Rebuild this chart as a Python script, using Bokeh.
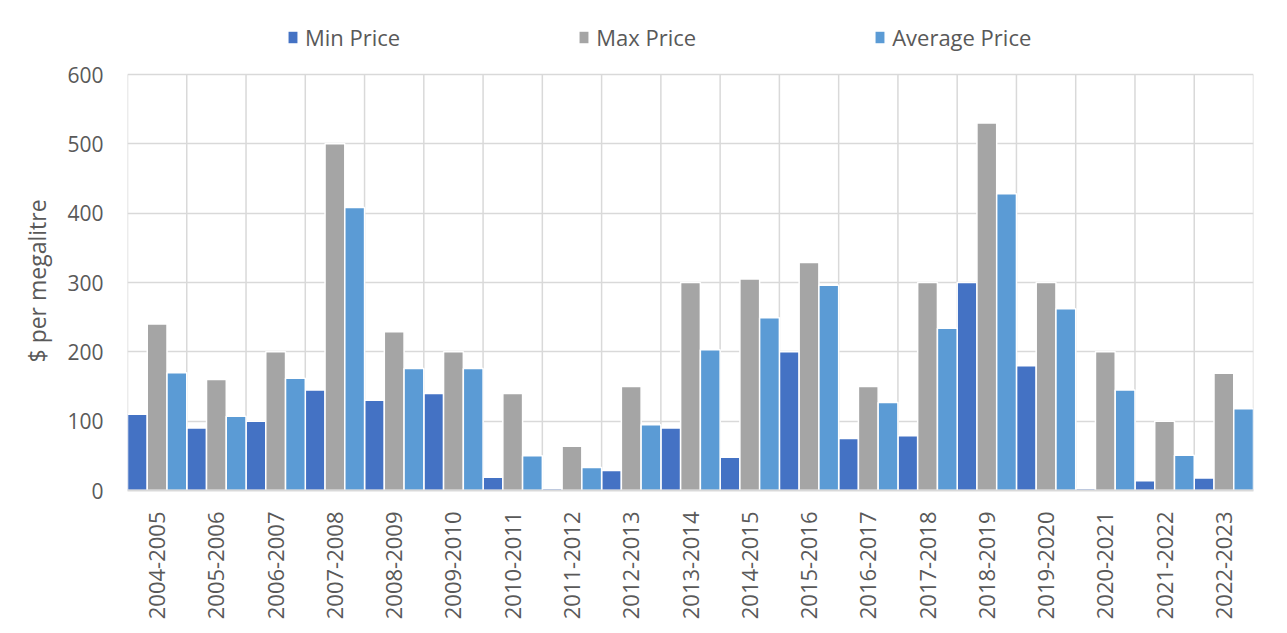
import math
from bokeh.plotting import figure
from bokeh.models import ColumnDataSource, FixedTicker, Legend, LegendItem, Range1d, Title
from bokeh.embed import file_html
from bokeh.resources import INLINE

categories = ["2004-2005", "2005-2006", "2006-2007", "2007-2008", "2008-2009",
              "2009-2010", "2010-2011", "2011-2012", "2012-2013", "2013-2014",
              "2014-2015", "2015-2016", "2016-2017", "2017-2018", "2018-2019",
              "2019-2020", "2020-2021", "2021-2022", "2022-2023"]
min_price = [110, 90, 100, 145, 130, 140, 19, 3, 29, 90, 48, 200, 75, 79, 300, 180, 3, 14, 18]
max_price = [240, 160, 200, 500, 229, 200, 140, 64, 150, 300, 305, 329, 150, 300, 530, 300, 200, 100, 169]
avg_price = [170, 107, 162, 408, 176, 176, 50, 33, 95, 203, 249, 296, 127, 234, 428, 262, 145, 51, 118]
y_ticks = [0, 100, 200, 300, 400, 500, 600]

series = [("Min Price", min_price, "#4472C4"),
          ("Max Price", max_price, "#A5A5A5"),
          ("Average Price", avg_price, "#5B9BD5")]

FONT = "Open Sans"
TXT = "#595959"
GRID = "#d9d9d9"

n = len(categories)
y_top = y_ticks[-1]
# frame reaches the top of the figure so that the legend (drawn inside the frame) shows
FRAME_H = 490
PLOT_H = 416  # pixels between 0 and 600
y_end = y_top * FRAME_H / PLOT_H

p = figure(frame_width=1126, frame_height=FRAME_H, output_backend="svg",
           toolbar_location=None,
           x_range=Range1d(0, n), y_range=Range1d(0, y_end),
           min_border_left=127, min_border_right=26, min_border_top=0,
           min_border_bottom=135)
p.outline_line_color = None
p.background_fill_color = "white"
p.border_fill_color = "white"

# category separators (vertical grid) limited to the value range
sep = list(range(n + 1))
p.segment(x0=sep, y0=[0] * len(sep), x1=sep, y1=[y_top] * len(sep),
          line_color=GRID, line_width=1.5)

bw = 1.0 / 3
items = []
for k, (name, vals, col) in enumerate(series):
    src = ColumnDataSource(dict(x=[i + bw * (k + 0.5) for i in range(n)], top=vals))
    r = p.vbar(x="x", top="top", bottom=0, width=bw, source=src,
               fill_color=col, line_color="white", line_width=1.5)
    items.append(LegendItem(label=name, renderers=[r]))

p.xgrid.grid_line_color = None
p.ygrid.ticker = FixedTicker(ticks=y_ticks)
p.ygrid.grid_line_color = GRID
p.ygrid.grid_line_width = 1.5

# x axis
xa = p.xaxis[0]
xa.ticker = FixedTicker(ticks=[i + 0.5 for i in range(n)])
xa.major_label_overrides = {i + 0.5: c for i, c in enumerate(categories)}
xa.major_label_orientation = math.pi / 2
xa.major_tick_line_color = None
xa.minor_tick_line_color = None
xa.axis_line_color = GRID
xa.axis_line_width = 2
xa.major_label_text_font = FONT
xa.major_label_text_font_size = "22px"
xa.major_label_text_color = TXT
xa.major_label_standoff = 15

# y axis
ya = p.yaxis[0]
ya.ticker = FixedTicker(ticks=y_ticks)
ya.axis_line_color = None
ya.major_tick_line_color = None
ya.minor_tick_line_color = None
ya.major_label_text_font = FONT
ya.major_label_text_font_size = "21px"
ya.major_label_text_color = TXT
ya.major_label_standoff = 18

ylab = Title(text="$ per megalitre", align="left", offset=128, standoff=24,
             text_font=FONT, text_font_size="23px", text_font_style="normal",
             text_color=TXT)
p.add_layout(ylab, "left")

legend = Legend(items=items, orientation="horizontal", location=(159, 438),
                spacing=177, padding=0, margin=0, border_line_color=None,
                background_fill_alpha=0, glyph_width=13, glyph_height=16,
                label_standoff=6, label_text_font=FONT, label_text_font_size="22px",
                label_text_color=TXT)
p.add_layout(legend, "center")

open("out.html", "w").write(file_html(p, INLINE))
